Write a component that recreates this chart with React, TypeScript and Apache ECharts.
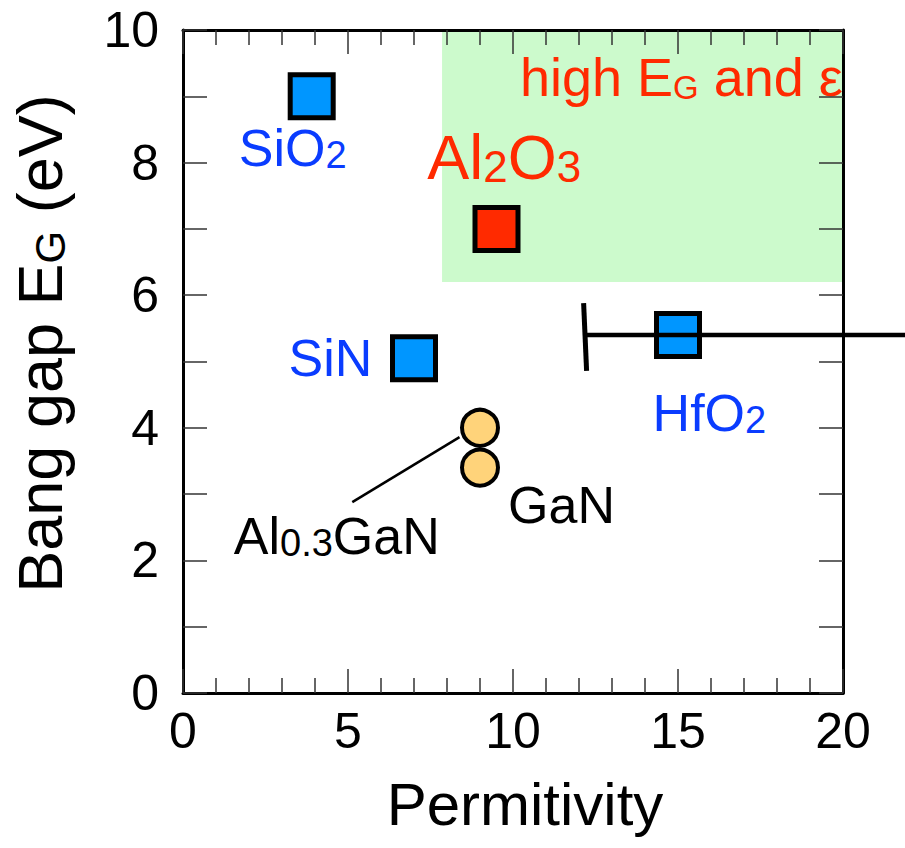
import React, { useEffect, useRef } from "react";
import * as echarts from "echarts";

const FONT = "'Liberation Sans', Arial, Helvetica, sans-serif";
const BLUE_TEXT = "#0a3cff";
const RED = "#ff2a00";

// ---- data ----
const squareNames = ["SiO2", "SiN", "Al2O3", "HfO2"];
const squarePermittivity = [3.9, 7.0, 9.5, 15.0];
const squareBandGap = [9.0, 5.05, 7.0, 5.4];
const squareFill = ["#0096ff", "#0096ff", "#ff2a00", "#0096ff"];

const circleNames = ["Al0.3GaN", "GaN"];
const circlePermittivity = [9.0, 9.0];
const circleBandGap = [4.0, 3.4];

const hfo2PermittivityRange = [12.15, 22.5];
const hfo2BandGap = 5.4;
const hfo2CapPermittivity = [12.14, 12.23];
const hfo2CapBandGap = [5.88, 4.86];

const leaderPermittivity = [5.13, 8.38];
const leaderBandGap = [2.88, 3.86];

const highRegionPermittivity = [7.85, 20];
const highRegionBandGap = [6.2, 10];

const yTickLabels = [0, 2, 4, 6, 8, 10];

// ---- annotation texts (anchor = left edge, vertical middle, in data units) ----
type Ann = { rich: string; at: number[]; color: string; size: number; sub?: number; drop?: number };
const annotations: Ann[] = [
  { rich: "{m|SiO}{s|2}", at: [1.69, 8.22], color: BLUE_TEXT, size: 52, sub: 38, drop: 4 },
  { rich: "{m|Al}{s|2}{m|O}{s|3}", at: [7.4, 8.09], color: RED, size: 63, sub: 44, drop: 4 },
  { rich: "{m|high E}{s|G}{m| and ε}", at: [10.21, 9.29], color: RED, size: 54, sub: 33, drop: 3 },
  { rich: "{m|SiN}", at: [3.2, 5.05], color: BLUE_TEXT, size: 52 },
  { rich: "{m|HfO}{s|2}", at: [14.23, 4.23], color: BLUE_TEXT, size: 52, sub: 38, drop: 4 },
  { rich: "{m|GaN}", at: [9.85, 2.84], color: "#000", size: 52 },
  { rich: "{m|Al}{s|0.3}{m|GaN}", at: [1.54, 2.37], color: "#000", size: 52, sub: 38, drop: 3 },
];

function richFor(F: number, S: number, d: number, color: string) {
  return {
    m: { fontSize: F, lineHeight: F, fontFamily: FONT, color },
    s: {
      fontSize: S,
      lineHeight: Math.max(1, 0.3 * F - 2 * d + 0.7 * S),
      verticalAlign: "bottom",
      fontFamily: FONT,
      color,
    },
  };
}

function segmentSeries(name: string, xs: number[], ys: number[], width: number) {
  return {
    type: "custom",
    name,
    clip: false,
    silent: true,
    z: 5,
    encode: { x: [0, 2], y: [1, 3] },
    data: [[xs[0], ys[0], xs[1], ys[1]]],
    renderItem: (_params: any, api: any) => {
      const p1 = api.coord([api.value(0), api.value(1)]);
      const p2 = api.coord([api.value(2), api.value(3)]);
      return {
        type: "line",
        shape: { x1: p1[0], y1: p1[1], x2: p2[0], y2: p2[1] },
        style: { stroke: "#000", lineWidth: width, lineCap: "butt" },
      };
    },
  };
}

export default function App() {
  const ref = useRef<HTMLDivElement>(null);
  useEffect(() => {
    if (!ref.current) return;
    const chart = echarts.init(ref.current, undefined, { renderer: "svg" });

    const tickStyle = { color: "#333", width: 1.5 };
    const axisLineStyle = { color: "#000", width: 3 };

    const xCommon = {
      type: "value" as const,
      min: 0,
      max: 20,
      interval: 5,
      z: 10,
      axisLine: { show: true, onZero: false, lineStyle: axisLineStyle },
      axisTick: { show: true, inside: true, length: 24, lineStyle: tickStyle },
      minorTick: { show: true, splitNumber: 5, length: 15, lineStyle: tickStyle },
      splitLine: { show: false },
      minorSplitLine: { show: false },
    };
    const yCommon = {
      type: "value" as const,
      min: 0,
      max: 10,
      interval: 1,
      z: 10,
      axisLine: { show: true, onZero: false, lineStyle: axisLineStyle },
      axisTick: { show: true, inside: true, length: 24, lineStyle: tickStyle },
      splitLine: { show: false },
    };

    const yRich = richFor(63, 42, 3, "#000");
    (yRich.m as any).padding = 0;

    const option: any = {
      animation: false,
      grid: { left: 181, right: 62, top: 30, bottom: 155 },
      xAxis: [
        {
          ...xCommon,
          position: "bottom",
          axisLabel: { margin: 13, fontSize: 50, color: "#000", fontFamily: FONT },
          name: "Permitivity",
          nameLocation: "middle",
          nameGap: 81,
          nameTextStyle: { fontSize: 60, color: "#000", fontFamily: FONT, padding: [0, 0, 0, 24] },
        },
        { ...xCommon, position: "top", axisLabel: { show: false } },
      ],
      yAxis: [
        {
          ...yCommon,
          position: "left",
          axisLabel: {
            margin: 24,
            fontSize: 50,
            color: "#000",
            fontFamily: FONT,
            formatter: (v: number) => (yTickLabels.includes(Math.round(v)) ? String(Math.round(v)) : ""),
          },
          name: "{m|Bang gap E}{s|G}{m| (eV)}",
          nameLocation: "middle",
          nameRotate: 90,
          nameGap: 112,
          nameTextStyle: { rich: yRich, padding: [0, 0, 0, 36] },
        },
        { ...yCommon, position: "right", axisLabel: { show: false } },
      ],
      series: [
        {
          type: "line",
          name: "leader",
          data: leaderPermittivity.map((x, i) => [x, leaderBandGap[i]]),
          symbol: "none",
          lineStyle: { color: "#000", width: 2.5 },
          z: 2,
          silent: true,
        },
        {
          type: "scatter",
          name: "dielectrics",
          data: squarePermittivity.map((x, i) => ({
            name: squareNames[i],
            value: [x, squareBandGap[i]],
            itemStyle: { color: squareFill[i] },
          })),
          symbol: "rect",
          symbolSize: 43,
          itemStyle: { borderColor: "#000", borderWidth: 5, opacity: 1 },
          z: 3,
          markArea: {
            silent: true,
            itemStyle: { color: "#ccfacc", opacity: 1 },
            data: [
              [
                { coord: [highRegionPermittivity[0], highRegionBandGap[0]] },
                { coord: [highRegionPermittivity[1], highRegionBandGap[1]] },
              ],
            ],
          },
        },
        {
          type: "scatter",
          name: "nitrides",
          data: circlePermittivity.map((x, i) => ({ name: circleNames[i], value: [x, circleBandGap[i]] })),
          symbol: "circle",
          symbolSize: 36,
          itemStyle: { color: "#ffd37a", borderColor: "#000", borderWidth: 4, opacity: 1 },
          z: 4,
        },
        segmentSeries(
          "HfO2 range",
          hfo2PermittivityRange,
          [hfo2BandGap, hfo2BandGap],
          4.5
        ),
        segmentSeries("HfO2 cap", hfo2CapPermittivity, hfo2CapBandGap, 5),
        {
          type: "scatter",
          name: "labels",
          symbolSize: 0,
          silent: true,
          z: 6,
          itemStyle: { opacity: 1 },
          data: annotations.map((a) => ({
            value: a.at,
            label: {
              show: true,
              position: "right",
              distance: 0,
              opacity: 1,
              formatter: a.rich,
              rich: richFor(a.size, a.sub ?? a.size, a.drop ?? 0, a.color),
            },
          })),
        },
      ],
    };
    chart.setOption(option);
    return () => chart.dispose();
  }, []);
  return (
    <div
      ref={ref}
      style={{ position: "absolute", left: 0, top: 0, width: 905, height: 848, background: "#fff" }}
    />
  );
}
